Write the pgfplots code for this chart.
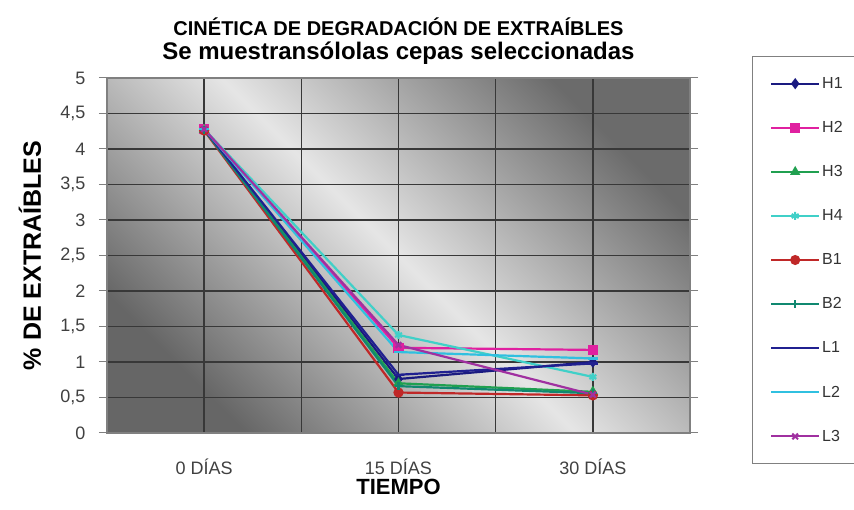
\documentclass[border=0pt]{standalone}
\usepackage{fontspec}
\setmainfont{Liberation Sans}
\usepackage{pgfplots}
\pgfplotsset{compat=1.18}
\definecolor{cH1}{HTML}{1A1A80}
\definecolor{cH2}{HTML}{E020A0}
\definecolor{cH3}{HTML}{20A050}
\definecolor{cH4}{HTML}{40D0C8}
\definecolor{cB1}{HTML}{C02828}
\definecolor{cB2}{HTML}{108870}
\definecolor{cL1}{HTML}{202090}
\definecolor{cL2}{HTML}{30C0E0}
\definecolor{cL3}{HTML}{A030A0}
\definecolor{gridc}{HTML}{383838}
\begin{document}
\begin{tikzpicture}
\useasboundingbox (0,0) rectangle (854pt,510pt);
\begin{axis}[
  at={(107pt,77pt)}, anchor=south west,
  width=583pt, height=355pt, scale only axis,
  xmin=-0.5, xmax=2.5, ymin=0, ymax=5,
  xtick={0,1,2},
  xticklabels={0 DÍAS,15 DÍAS,30 DÍAS},
  minor xtick={-0.5,0.5,1.5,2.5},
  ytick={0,0.5,...,5},
  xmajorgrids, xminorgrids, ymajorgrids,
  grid style={gridc, line width=1.4pt},
  minor grid style={gridc, line width=1.4pt},
  axis line style={gray, line width=1.2pt},
  tick align=outside,
  major tick length=8pt, minor tick length=8pt,
  xtick style={draw=none},
  minor tick style={gray, line width=1pt},
  ytick style={gray, line width=1pt},
  /pgf/number format/use comma,
  /pgf/number format/assume math mode=true,
  yticklabel style={font=\fontsize{18}{20}\selectfont\color{black!75}, xshift=-10pt},
  xticklabel style={font=\fontsize{18}{20}\selectfont\color{black!75}, yshift=-14pt},
  xlabel={\textbf{TIEMPO}},
  xlabel style={font=\fontsize{22}{24}\selectfont, yshift=2pt},
  ylabel={\textbf{\% DE EXTRAÍBLES}},
  ylabel style={font=\fontsize{25}{27}\selectfont, at={(axis description cs:-0.132,0.5)}, anchor=center},
  title={{\fontsize{20}{24}\selectfont\textbf{CINÉTICA DE DEGRADACIÓN DE EXTRAÍBLES}}\\[5pt]{\fontsize{24}{26}\selectfont\textbf{Se muestransólolas cepas seleccionadas}}},
  title style={align=center, yshift=4pt},
  axis background/.style={shade, top color=black!58, bottom color=black!60, middle color=black!10, shading angle=-45},
  legend style={at={(1.106,1.062)}, anchor=north west, draw=gray, line width=0.8pt,
    font=\fontsize{16}{18}\selectfont\color{black!80}, row sep=27.5pt, inner ysep=19pt, inner xsep=18pt,
    text width=40pt},
  legend cell align=left,
  legend image code/.code={\draw[mark repeat=2, mark phase=2, #1, line width=2pt]
    plot coordinates {(0pt,0pt) (24pt,0pt) (48pt,0pt)};},
  every axis plot/.append style={line width=2.2pt, mark size=4pt, mark options={solid}},
]
\addplot[cH1, mark=diamond*] coordinates {(0,4.28) (1,0.76) (2,1.00)};
\addlegendentry{H1}
\addplot[cH2, mark=square*] coordinates {(0,4.28) (1,1.20) (2,1.17)};
\addlegendentry{H2}
\addplot[cH3, mark=triangle*] coordinates {(0,4.27) (1,0.70) (2,0.58)};
\addlegendentry{H3}
\addplot[cH4, mark=asterisk] coordinates {(0,4.28) (1,1.38) (2,0.79)};
\addlegendentry{H4}
\addplot[cB1, mark=*] coordinates {(0,4.26) (1,0.57) (2,0.53)};
\addlegendentry{B1}
\addplot[cB2, mark=+] coordinates {(0,4.27) (1,0.66) (2,0.56)};
\addlegendentry{B2}
\addplot[cL1, mark=-, mark size=5pt] coordinates {(0,4.28) (1,0.82) (2,0.98)};
\addlegendentry{L1}
\addplot[cL2, mark=-, mark size=5pt] coordinates {(0,4.28) (1,1.14) (2,1.05)};
\addlegendentry{L2}
\addplot[cL3, mark=x] coordinates {(0,4.28) (1,1.24) (2,0.54)};
\addlegendentry{L3}
\end{axis}
\end{tikzpicture}
\end{document}
